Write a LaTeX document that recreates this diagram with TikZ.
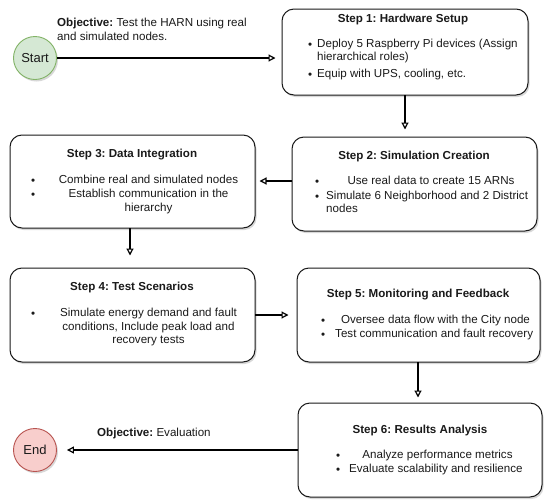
\documentclass[tikz,border=0pt]{standalone}
\usepackage{fontspec}
\setmainfont{Liberation Sans}
\usetikzlibrary{arrows.meta,shadows}
\definecolor{startfill}{HTML}{D5E8D4}
\definecolor{startdraw}{HTML}{82B366}
\definecolor{endfill}{HTML}{F8CECC}
\definecolor{enddraw}{HTML}{B85450}
\definecolor{txt}{HTML}{1A1A1A}
\frenchspacing
\begin{document}
\begin{tikzpicture}[x=1pt,y=-1pt,
  every node/.style={text=txt},
  stepbox/.style={draw=black!90, line width=1pt, rounded corners=12pt, fill=white,
    drop shadow={shadow xshift=1.5pt, shadow yshift=-2pt, opacity=0.3}, inner sep=0pt},
  term/.style={circle, line width=0.9pt, minimum size=43pt, inner sep=0pt,
    font=\fontsize{13}{15}\selectfont,
    drop shadow={shadow xshift=1.5pt, shadow yshift=-2pt, opacity=0.3}},
  ttl/.style={font=\fontsize{11.6}{13.9}\selectfont\bfseries, inner sep=0pt, anchor=mid},
  ln/.style={font=\fontsize{11.6}{13.9}\selectfont, inner sep=0pt, anchor=mid},
  lnw/.style={ln, anchor=mid west},
  bul/.style={lnw, yshift=-1.3pt},
  conn/.style={line width=1.2pt, -{Triangle[open, length=7pt, width=7pt]}}
]
\useasboundingbox (0,0) rectangle (550,504);
\fill[white] (0,0) rectangle (550,504);

% terminals
\node[term, draw=startdraw, fill=startfill] (start) at (35,58) {Start};
\node[term, draw=enddraw, fill=endfill] (end) at (35,450) {End};

% boxes
\node[stepbox, minimum width=246pt, minimum height=86pt] (s1) at (405,52) {};
\node[stepbox, minimum width=245pt, minimum height=94pt] (s2) at (414.5,184) {};
\node[stepbox, minimum width=245pt, minimum height=93pt] (s3) at (132.5,181.5) {};
\node[stepbox, minimum width=245pt, minimum height=94pt] (s4) at (132.5,315) {};
\node[stepbox, minimum width=243pt, minimum height=94pt] (s5) at (418.5,315) {};
\node[stepbox, minimum width=244pt, minimum height=94pt] (s6) at (420,450) {};

% connectors
\coordinate (c1) at (57,58);
\draw[conn, shorten >=6pt] (c1) -- (c1 -| s1.west);
\coordinate (c2) at (405,95);
\draw[conn, shorten >=7pt] (c2) -- (c2 |- s2.north);
\coordinate (c3) at (292,181);
\draw[conn, shorten >=4pt] (c3) -- (c3 -| s3.east);
\coordinate (c4) at (130,228);
\draw[conn, shorten >=12pt] (c4) -- (c4 |- s4.north);
\coordinate (c5) at (255,315);
\draw[conn, shorten >=8pt] (c5) -- (c5 -| s5.west);
\coordinate (c6) at (418,362);
\draw[conn, shorten >=5pt] (c6) -- (c6 |- s6.north);
\coordinate (c7) at (298,450);
\draw[conn, shorten >=10pt] (c7) -- (c7 -| end.east);

% objective labels
\node[lnw] (o1a) at (57,24) {\textbf{Objective:} Test the HARN using real};
\node[lnw] (o1b) at (57,38) {and simulated nodes.};
\node[lnw] (o2) at (97,434) {\textbf{Objective:} Evaluation};

% step 1
\node[ttl] (t1) at (403,20) {Step 1: Hardware Setup};
\node[bul] (b1a) at (308,45) {•};
\node[lnw] (l1a) at (317,45) {Deploy 5 Raspberry Pi devices (Assign};
\node[lnw] (l1b) at (317,58) {hierarchical roles)};
\node[bul] (b1b) at (308,75) {•};
\node[lnw] (l1c) at (317,75) {Equip with UPS, cooling, etc.};

% step 2
\node[ttl] (t2) at (414,157) {Step 2: Simulation Creation};
\node[bul] (b2a) at (315,182) {•};
\node[ln] (l2a) at (431,182) {Use real data to create 15 ARNs};
\node[bul] (b2b) at (315,197) {•};
\node[lnw] (l2b) at (326,197) {Simulate 6 Neighborhood and 2 District};
\node[lnw] (l2c) at (326,210) {nodes};

% step 3
\node[ttl] (t3) at (132,155) {Step 3: Data Integration};
\node[bul] (b3a) at (31,181) {•};
\node[ln] (l3a) at (148.5,181) {Combine real and simulated nodes};
\node[bul] (b3b) at (31,195) {•};
\node[ln] (l3b) at (148.5,195) {Establish communication in the};
\node[ln] (l3c) at (148.5,209) {hierarchy};

% step 4
\node[ttl] (t4) at (132,288) {Step 4: Test Scenarios};
\node[bul] (b4a) at (31,314) {•};
\node[ln] (l4a) at (148.5,314) {Simulate energy demand and fault};
\node[ln] (l4b) at (148.5,327.5) {conditions, Include peak load and};
\node[ln] (l4c) at (148.5,341) {recovery tests};

% step 5
\node[ttl] (t5) at (418,295) {Step 5: Monitoring and Feedback};
\node[bul] (b5a) at (321,321) {•};
\node[ln] (l5a) at (435.5,321) {Oversee data flow with the City node};
\node[bul] (b5b) at (321,335) {•};
\node[lnw] (l5b) at (335,335) {Test communication and fault recovery};

% step 6
\node[ttl] (t6) at (420,431) {Step 6: Results Analysis};
\node[bul] (b6a) at (336,456) {•};
\node[ln] (l6a) at (437.5,456) {Analyze performance metrics};
\node[bul] (b6b) at (336,470) {•};
\node[lnw] (l6b) at (349,470) {Evaluate scalability and resilience};
\end{tikzpicture}
\end{document}
